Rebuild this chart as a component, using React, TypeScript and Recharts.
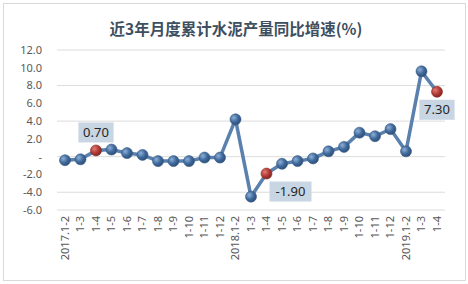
import React from "react";
import {
  LineChart,
  Line,
  XAxis,
  YAxis,
  CartesianGrid,
  LabelList,
} from "recharts";

const categories = [
  "2017.1-2", "1-3", "1-4", "1-5", "1-6", "1-7", "1-8", "1-9", "1-10", "1-11", "1-12",
  "2018.1-2", "1-3", "1-4", "1-5", "1-6", "1-7", "1-8", "1-9", "1-10", "1-11", "1-12",
  "2019.1-2", "1-3", "1-4",
];

const growth = [
  -0.4, -0.3, 0.7, 0.8, 0.4, 0.2, -0.5, -0.5, -0.5, -0.1, -0.1,
  4.2, -4.5, -1.9, -0.8, -0.5, -0.2, 0.6, 1.1, 2.7, 2.3, 3.1,
  0.6, 9.6, 7.3,
];

// points drawn in red and labelled
const highlighted = [2, 13, 24];

const yTicks = [-6, -4, -2, 0, 2, 4, 6, 8, 10, 12];

const data = categories.map((name, i) => ({
  name,
  value: growth[i],
  hot: highlighted.includes(i),
  label: highlighted.includes(i) ? growth[i].toFixed(2) : null,
}));

const FONT = '"Noto Sans", "Noto Sans CJK SC", sans-serif';

// label box offset from its point, by category index
const LABEL_OFFSET: Record<number, [number, number]> = {
  2: [0, -18],
  13: [24, 18],
  24: [0, 18],
};

const XTick = (props: any) => {
  const { x, y, payload } = props;
  return (
    <text
      x={x}
      y={y}
      transform={`rotate(-90, ${x}, ${y})`}
      textAnchor="end"
      dy="0.35em"
      fontSize={11}
      fontFamily={FONT}
      fill="#595959"
    >
      {payload.value}
    </text>
  );
};

const Dot = (props: any) => {
  const { cx, cy, payload, index } = props;
  if (cx == null || cy == null) return null;
  return (
    <circle
      key={`dot-${index}`}
      cx={cx}
      cy={cy}
      r={5.5}
      fill={payload.hot ? "url(#redBall)" : "url(#blueBall)"}
      stroke={payload.hot ? "#8a2b27" : "#35577f"}
      strokeWidth={0.6}
    />
  );
};

const PointLabel = (props: any) => {
  const { x, y, value, index } = props;
  if (value == null) return null;
  const [dx, dy] = LABEL_OFFSET[index] ?? [0, -18];
  const w = value.length * 6.8 + 8;
  const cx = x + dx;
  const cy = y + dy;
  return (
    <g>
      <rect x={cx - w / 2} y={cy - 10} width={w} height={20} fill="#c8d5e2" />
      <text
        x={cx}
        y={cy}
        dy="0.36em"
        textAnchor="middle"
        fontSize={13}
        fontFamily={FONT}
        fill="#262626"
      >
        {value}
      </text>
    </g>
  );
};

export default function App() {
  return (
    <div
      style={{
        position: "absolute",
        left: 0,
        top: 0,
        width: 468,
        height: 284,
        background: "#ffffff",
      }}
    >
      <div
        style={{
          position: "absolute",
          left: 3,
          top: 3,
          width: 461,
          height: 276,
          border: "1px solid #d9d9d9",
        }}
      />
      <div
        style={{
          position: "absolute",
          left: 0,
          top: 17,
          width: 472,
          textAlign: "center",
          fontFamily: '"Noto Sans CJK SC", sans-serif',
          fontWeight: "bold",
          fontSize: 15.5,
          color: "#3e4f60",
        }}
      >
        近3年月度累计水泥产量同比增速(%)
      </div>
      <LineChart
        width={468}
        height={284}
        data={data}
        margin={{ top: 50, right: 23, bottom: 0, left: 0 }}
        style={{ position: "absolute", left: 0, top: 0 }}
      >
        <defs>
          <radialGradient id="blueBall" cx="35%" cy="35%" r="70%">
            <stop offset="0%" stopColor="#8fb0d8" />
            <stop offset="55%" stopColor="#3f6a9c" />
            <stop offset="100%" stopColor="#2c4d78" />
          </radialGradient>
          <radialGradient id="redBall" cx="35%" cy="35%" r="70%">
            <stop offset="0%" stopColor="#e07b76" />
            <stop offset="55%" stopColor="#b23a35" />
            <stop offset="100%" stopColor="#7e2420" />
          </radialGradient>
        </defs>
        <CartesianGrid horizontal vertical={false} stroke="#dcdcdc" />
        <XAxis
          dataKey="name"
          interval={0}
          height={74}
          axisLine={false}
          tickLine={false}
          tickMargin={0}
          padding={{ left: 8, right: 8 }}
          tick={<XTick />}
        />
        <YAxis
          domain={[-6, 12]}
          ticks={yTicks}
          width={57}
          axisLine={false}
          tickLine={false}
          tickMargin={9}
          tick={{ fontSize: 11, fontFamily: FONT, fill: "#595959" }}
          tickFormatter={(v: number) => (v === 0 ? "-" : v.toFixed(1))}
        />
        <Line
          type="linear"
          dataKey="value"
          stroke="#5a80ae"
          strokeWidth={3.5}
          dot={Dot}
          activeDot={false}
          isAnimationActive={false}
        >
          <LabelList dataKey="label" content={PointLabel} />
        </Line>
      </LineChart>
    </div>
  );
}
